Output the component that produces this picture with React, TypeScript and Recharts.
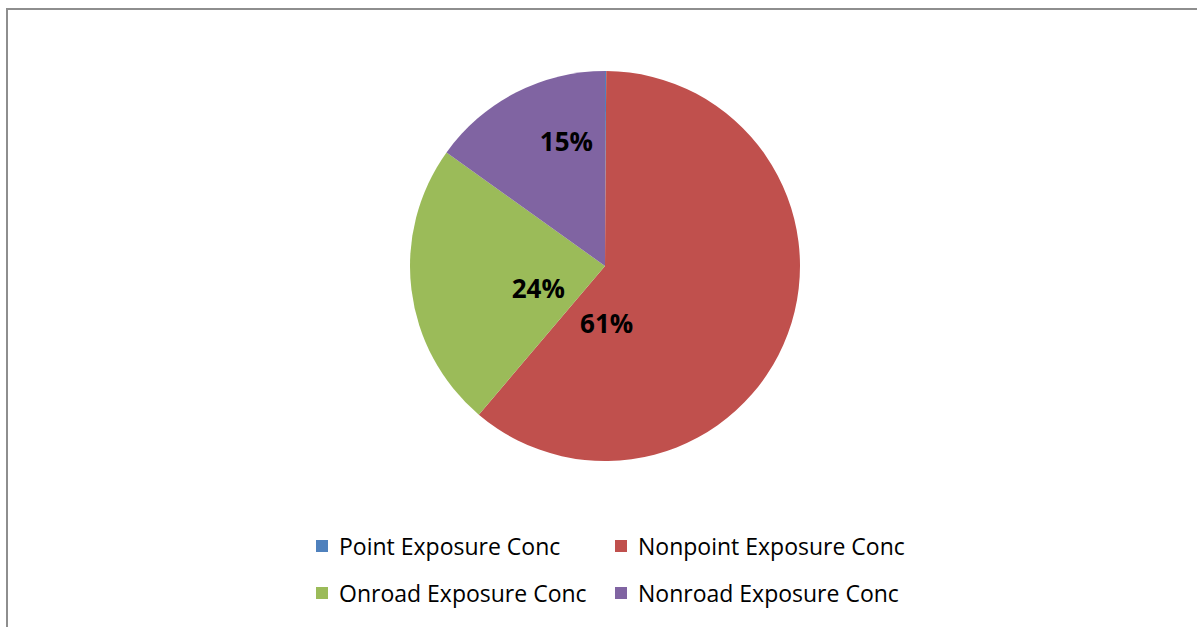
import { Cell, Legend, Pie, PieChart } from "recharts";

const SOURCES = [
  "Point Exposure Conc",
  "Nonpoint Exposure Conc",
  "Onroad Exposure Conc",
  "Nonroad Exposure Conc",
];
const SHARES = [0.1, 61.1, 23.7, 15.1];
const PCT_LABELS = ["0%", "61%", "24%", "15%"];
const COLORS = ["#4F81BD", "#C0504D", "#9BBB59", "#8064A2"];

// excel "best fit" puts labels off the slice middle, so nudge each one
const LABEL_PLACE = [
  { r: 0, shift: 0, show: false },
  { r: 0.29, shift: -68, show: true },
  { r: 0.36, shift: 11, show: true },
  { r: 0.67, shift: -10, show: true },
];

const RADIAN = Math.PI / 180;
const FONT = "'Open Sans', 'DejaVu Sans', sans-serif";

const data = SOURCES.map((name, i) => ({ name, value: SHARES[i], pct: PCT_LABELS[i] }));

function renderLabel(props: any) {
  const { cx, cy, midAngle, outerRadius, index } = props;
  const place = LABEL_PLACE[index];
  if (!place || !place.show) return null;
  const angle = midAngle + place.shift;
  const r = outerRadius * place.r;
  const x = cx + r * Math.cos(-angle * RADIAN);
  const y = cy + r * Math.sin(-angle * RADIAN);
  return (
    <text
      x={x}
      y={y}
      fill="#000"
      fontFamily={FONT}
      fontSize={26}
      fontWeight={700}
      textAnchor="middle"
      dominantBaseline="central"
    >
      {data[index].pct}
    </text>
  );
}

function LegendGrid() {
  return (
    <div
      style={{
        display: "grid",
        gridTemplateColumns: "299px 300px",
        rowGap: 21,
        marginLeft: 308,
        fontFamily: FONT,
        fontSize: 23,
        color: "#000",
      }}
    >
      {data.map((d, i) => (
        <div key={d.name} style={{ display: "flex", alignItems: "center", height: 26 }}>
          <span
            style={{
              width: 12,
              height: 12,
              background: COLORS[i],
              marginRight: 11,
              display: "inline-block",
            }}
          />
          <span>{d.name}</span>
        </div>
      ))}
    </div>
  );
}

export default function App() {
  return (
    <div
      style={{
        position: "absolute",
        left: 6,
        top: 8,
        width: 1189,
        height: 617,
        borderTop: "2px solid #8e8e8e",
        borderLeft: "2px solid #8e8e8e",
        overflow: "hidden",
        background: "#fff",
      }}
    >
      <PieChart width={1189} height={617} margin={{ top: 0, right: 0, bottom: 0, left: 0 }}>
        <Pie
          data={data}
          dataKey="value"
          nameKey="name"
          cx={597}
          cy={256}
          outerRadius={195}
          startAngle={90}
          endAngle={-270}
          stroke="none"
          label={renderLabel}
          labelLine={false}
          isAnimationActive={false}
        >
          {data.map((d, i) => (
            <Cell key={d.name} fill={COLORS[i]} />
          ))}
        </Pie>
        <Legend
          verticalAlign="bottom"
          content={() => <LegendGrid />}
          wrapperStyle={{ top: 523, left: 0, bottom: "auto", width: 1189 }}
        />
      </PieChart>
    </div>
  );
}
